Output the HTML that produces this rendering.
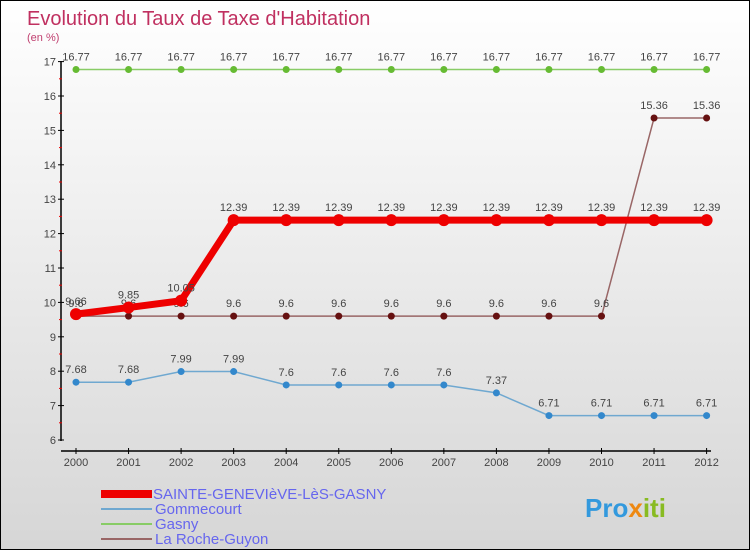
<!DOCTYPE html>
<html><head><meta charset="utf-8"><style>
body{margin:0;width:750px;height:550px;overflow:hidden;font-family:"Liberation Sans",sans-serif}
#c{position:absolute;left:0;top:0;width:748px;height:548px;border:1px solid #000;background:linear-gradient(#fff,#d6d6d6)}
</style></head><body>
<div id="c">
<svg id="s" width="748" height="548" xmlns="http://www.w3.org/2000/svg">
<text x="26" y="24" font-size="20" fill="#c03060">Evolution du Taux de Taxe d'Habitation</text>
<text x="26" y="40" font-size="11" fill="#c04070">(en %)</text>
<g id="g"></g>
<text x="152" y="498" font-size="15" fill="#6666ee">SAINTE-GENEVIèVE-LèS-GASNY</text>
<text x="154" y="513" font-size="15" fill="#6666ee">Gommecourt</text>
<text x="154" y="528" font-size="15" fill="#6666ee">Gasny</text>
<text x="154" y="543" font-size="15" fill="#6666ee">La Roche-Guyon</text>
<rect x="100" y="489" width="51" height="8" fill="#ee0000"/>
<rect x="100" y="507" width="51" height="2" fill="#6fa8d0"/>
<rect x="100" y="522" width="51" height="2" fill="#88cc66"/>
<rect x="100" y="537" width="51" height="2" fill="#996666"/>
<text x="584" y="516" font-size="26" font-weight="bold" fill="#3399dd">Pro<tspan fill="#ee8811">x</tspan><tspan fill="#88bb22">iti</tspan></text>
</svg></div>
<script>
const years=[2000,2001,2002,2003,2004,2005,2006,2007,2008,2009,2010,2011,2012];
const yTicks=[6,7,8,9,10,11,12,13,14,15,16,17];
const sainte=[9.66,9.85,10.05,12.39,12.39,12.39,12.39,12.39,12.39,12.39,12.39,12.39,12.39];
const gommecourt=[7.68,7.68,7.99,7.99,7.6,7.6,7.6,7.6,7.37,6.71,6.71,6.71,6.71];
const gasny=[16.77,16.77,16.77,16.77,16.77,16.77,16.77,16.77,16.77,16.77,16.77,16.77,16.77];
const roche=[9.6,9.6,9.6,9.6,9.6,9.6,9.6,9.6,9.6,9.6,9.6,15.36,15.36];
const NS="http://www.w3.org/2000/svg";
const g=document.getElementById('g');
const X=i=>75+i*52.55, Y=v=>439-(v-6)*34.4;
function el(t,a,name){const e=document.createElementNS(NS,t);for(const k in a)e.setAttribute(k,a[k]);


g.appendChild(e);return e;}
el('line',{x1:60,y1:60,x2:60,y2:440,stroke:'#000','stroke-width':1.5},'y-axis');
el('line',{x1:60,y1:450,x2:710,y2:450,stroke:'#000','stroke-width':1.5},'x-axis');
yTicks.forEach(v=>{el('line',{x1:57,y1:Y(v),x2:63,y2:Y(v),stroke:'#000'},'y-tick');
if(v<17)el('line',{x1:58,y1:Y(v+0.5),x2:61,y2:Y(v+0.5),stroke:'#e00'},'y-minor-tick');
const t=el('text',{x:55,y:Y(v)+4,'font-size':11,fill:'#444','text-anchor':'end'},'y-tick-label');t.textContent=v;});
years.forEach((yr,i)=>{el('line',{x1:X(i),y1:447,x2:X(i),y2:453,stroke:'#000'},'x-tick');
const t=el('text',{x:X(i),y:465,'font-size':11,fill:'#444','text-anchor':'middle'},'x-tick-label');t.textContent=yr;});
function series(d,col,w,r,fill,name){
el('polyline',{points:d.map((v,i)=>X(i)+','+Y(v)).join(' '),fill:'none',stroke:col,'stroke-width':w},name+'-line');
d.forEach((v,i)=>{el('circle',{cx:X(i),cy:Y(v),r:r,fill:fill},name+'-point');
const t=el('text',{x:X(i),y:Y(v)-9,'font-size':11,fill:'#444','text-anchor':'middle'},name+'-value-label');t.textContent=v;});}
series(gasny,'#88cc66',1.5,3.5,'#66bb33','gasny');
series(gommecourt,'#6fa8d0',1.5,3.5,'#3388cc','gommecourt');
series(roche,'#996666',1.5,3.5,'#661111','la-roche-guyon');
series(sainte,'#ee0000',7,6,'#ee0000','sainte-genevieve');
</script></body></html>
